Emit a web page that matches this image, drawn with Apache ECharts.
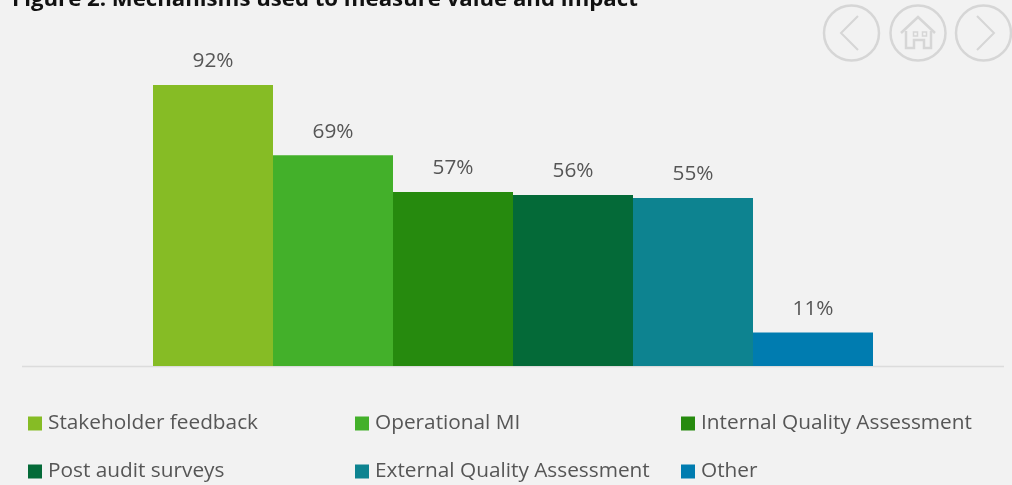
<!DOCTYPE html>
<html>
<head>
<meta charset="utf-8">
<style>html,body{margin:0;padding:0;background:#f2f2f2}#c{width:1012px;height:485px}</style>
<script src="https://cdn.jsdelivr.net/npm/echarts@6/dist/echarts.min.js"></script>
</head>
<body>
<div id="c"></div>
<script>
const titleText = 'Figure 2: Mechanisms used to measure value and impact';
const names = ['Stakeholder feedback','Operational MI','Internal Quality Assessment','Post audit surveys','External Quality Assessment','Other'];
const values = [92,69,57,56,55,11];
const colors = ['#86bc25','#43b02a','#268a0e','#046a38','#0d8390','#007cb0'];
const legendLeft = [28,355,681,28,355,681];
const legendTop = [413,413,413,461,461,461];
const FONT = '"Open Sans"';
const GREY = '#565656', ICON = '#d6d6d6';
const chart = echarts.init(document.getElementById('c'), null, {renderer:'canvas'});
function stroke(w){return {stroke:ICON,lineWidth:w,fill:'none'};}
chart.setOption({
  backgroundColor:'#f2f2f2',
  animation:false,
  title:{text:titleText,left:7,top:-16,textStyle:{fontFamily:'"Open Sans"',fontWeight:'bold',fontSize:22.2,color:'#111'}},
  legend:names.map((n,i)=>({data:[n],left:legendLeft[i],top:legendTop[i],padding:0,icon:'rect',itemWidth:14,itemHeight:14,itemGap:6,
    textStyle:{fontFamily:FONT,fontSize:20.8,color:GREY,padding:[0,0,0,1]},selectedMode:false})),
  grid:{left:153,width:720,top:60.6,height:305.4},
  xAxis:{type:'category',data:['Mechanisms'],show:false},
  yAxis:{type:'value',min:0,max:100,show:false},
  series:names.map((n,i)=>({
    name:n,type:'bar',barGap:0,barCategoryGap:0,data:[values[i]],
    itemStyle:{color:colors[i]},
    label:{show:true,position:'top',distance:13,formatter:'{c}%',fontFamily:FONT,fontSize:20.8,color:GREY}
  })),
  graphic:[
    {type:'line',z:-1,shape:{x1:22,y1:366.5,x2:1004,y2:366.5},style:{stroke:'#dcdcdc',lineWidth:1.5}},
    {type:'circle',shape:{cx:851.5,cy:33,r:27.5},style:stroke(2.5)},
    {type:'circle',shape:{cx:918,cy:33,r:27.5},style:stroke(2.5)},
    {type:'circle',shape:{cx:983.5,cy:33,r:27.5},style:stroke(2.5)},
    {type:'polyline',shape:{points:[[858,16],[841,33],[858,50]]},style:stroke(2)},
    {type:'polyline',shape:{points:[[977,16],[994,33],[977,50]]},style:stroke(2)},
    {type:'polyline',shape:{points:[[901,33],[918,17],[935,33]]},style:stroke(2.5)},
    {type:'polyline',shape:{points:[[906,31],[906,48],[914,48],[914,40],[924,40],[924,48],[931,48],[931,31]]},style:stroke(2.5)},
    {type:'rect',shape:{x:913.5,y:32,width:4,height:4},style:stroke(1.5)},
    {type:'rect',shape:{x:922.5,y:32,width:4,height:4},style:stroke(1.5)}
  ]
});
</script>
</body>
</html>
